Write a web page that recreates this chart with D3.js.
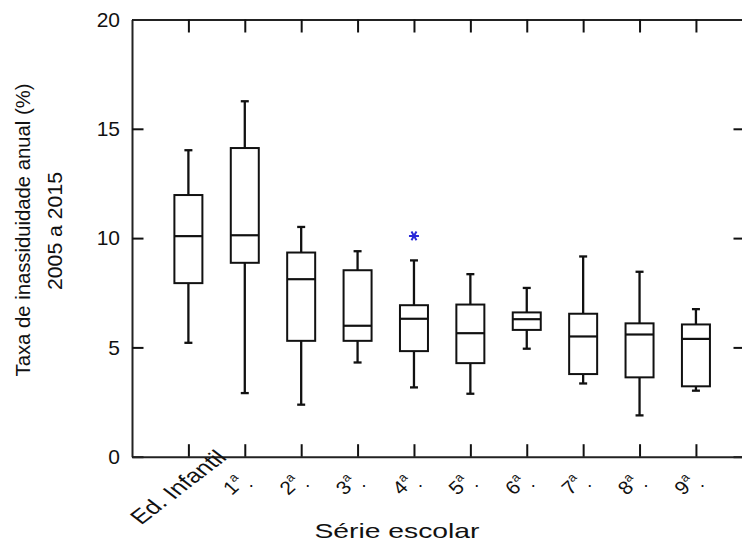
<!DOCTYPE html>
<html>
<head>
<meta charset="utf-8">
<script src="https://cdn.jsdelivr.net/npm/d3@7"></script>
<style>
  html, body { margin: 0; padding: 0; background: #fff; }
  svg { display: block; }
  text { font-family: "Liberation Sans", Arial, sans-serif; fill: #111; }
</style>
</head>
<body>
<svg id="chart" width="742" height="541"></svg>
<script>
// School grade categories (tick labels along the bottom)
const categories = ["Ed. Infantil", "1", "2", "3", "4", "5", "6", "7", "8", "9"];
// Box-plot statistics per grade: whisker low, Q1, median, Q3, whisker high (%)
const whiskerLow  = [5.21, 2.91, 2.38, 4.31, 3.17, 2.88, 4.94, 3.35, 1.89, 3.02];
const q1          = [7.94, 8.87, 5.30, 5.30, 4.83, 4.28, 5.80, 3.78, 3.63, 3.22];
const median      = [10.09, 10.13, 8.12, 5.99, 6.31, 5.65, 6.29, 5.50, 5.59, 5.39];
const q3          = [11.97, 14.12, 9.34, 8.53, 6.93, 6.96, 6.60, 6.54, 6.10, 6.05];
const whiskerHigh = [14.02, 16.26, 10.51, 9.40, 8.98, 8.35, 7.72, 9.16, 8.46, 6.75];
// Outliers: [category index, value]
const outliers = [[4, 10.10]];
// Y axis tick values
const yTicks = [0, 5, 10, 15, 20];

const svg = d3.select("#chart");

const x = d3.scaleLinear().domain([0, 10.87]).range([132, 745]);
const y = d3.scaleLinear().domain([0, 20]).range([456.7, 19.5]);

const boxW = 28, capW = 8;
const ink = "#111";

// Frame axes with inward ticks
const gLeft = svg.append("g").attr("transform", `translate(${x(0)},0)`)
  .call(d3.axisLeft(y).tickValues(yTicks).tickSizeInner(-11.5).tickSizeOuter(0).tickPadding(12));
const gRight = svg.append("g").attr("transform", `translate(${x(10.87)},0)`)
  .call(d3.axisRight(y).tickValues(yTicks).tickSizeInner(-11.5).tickSizeOuter(0).tickFormat(""));
const gTop = svg.append("g").attr("transform", `translate(0,${y(20)})`)
  .call(d3.axisTop(x).tickValues(d3.range(1, 11)).tickSizeInner(-13).tickSizeOuter(0).tickFormat(""));
const gBottom = svg.append("g").attr("transform", `translate(0,${y(0)})`)
  .call(d3.axisBottom(x).tickValues(d3.range(1, 11)).tickSizeInner(-12.5).tickSizeOuter(0).tickFormat(""));

[gLeft, gRight, gTop, gBottom].forEach(g => {
  g.selectAll(".domain").attr("stroke", "#222").attr("stroke-width", 2);
  g.selectAll(".tick line").attr("stroke", "#111").attr("stroke-width", 2);
});
gLeft.selectAll(".tick text")
  .attr("font-size", 21).attr("fill", ink)
  .style("font-family", "'Liberation Sans', Arial, sans-serif");

// Category labels, slanted
const labels = svg.append("g");
categories.forEach((c, i) => {
  const tx = x(i + 1);
  if (i === 0) {
    labels.append("text")
      .attr("text-anchor", "middle")
      .attr("font-size", 20)
      .attr("transform", `translate(${tx - 4},492) scale(1.3,1) rotate(-45)`)
      .text(c);
  } else {
    const t = labels.append("text")
      .attr("font-size", 19)
      .attr("transform", `translate(${tx - 13},496) scale(1.1,1) rotate(-45)`);
    t.append("tspan").text(c);
    t.append("tspan").attr("font-size", 12).attr("dy", -8).text("a");
    labels.append("text")
      .attr("x", tx + 4).attr("y", 487)
      .attr("font-size", 18)
      .text(".");
  }
});

// Box plots
const boxes = svg.append("g").attr("fill", "none").attr("stroke", ink);
categories.forEach((c, i) => {
  const cx = x(i + 1);
  const g = boxes.append("g");
  // whiskers
  g.append("line").attr("x1", cx).attr("x2", cx)
    .attr("y1", y(q3[i])).attr("y2", y(whiskerHigh[i])).attr("stroke-width", 2.3);
  g.append("line").attr("x1", cx).attr("x2", cx)
    .attr("y1", y(q1[i])).attr("y2", y(whiskerLow[i])).attr("stroke-width", 2.3);
  // caps
  [whiskerHigh[i], whiskerLow[i]].forEach(v => {
    g.append("line").attr("x1", cx - capW / 2).attr("x2", cx + capW / 2)
      .attr("y1", y(v)).attr("y2", y(v)).attr("stroke-width", 2.3);
  });
  // box
  g.append("rect")
    .attr("x", cx - boxW / 2).attr("width", boxW)
    .attr("y", y(q3[i])).attr("height", y(q1[i]) - y(q3[i]))
    .attr("fill", "#fff").attr("stroke-width", 2);
  // median
  g.append("line").attr("x1", cx - boxW / 2).attr("x2", cx + boxW / 2)
    .attr("y1", y(median[i])).attr("y2", y(median[i])).attr("stroke-width", 2.2);
});

// Outlier markers (asterisks)
const star = d3.symbol().type(d3.symbolAsterisk || d3.symbolCross).size(70);
svg.append("g").selectAll("path").data(outliers).join("path")
  .attr("transform", d => `translate(${x(d[0] + 1)},${y(d[1])}) rotate(90)`)
  .attr("d", star())
  .attr("fill", "none")
  .attr("stroke", "#2a2ad8")
  .attr("stroke-width", 2);

// Axis titles
svg.append("text")
  .attr("x", 397).attr("y", 538)
  .attr("text-anchor", "middle")
  .attr("font-size", 21)
  .attr("textLength", 165).attr("lengthAdjust", "spacingAndGlyphs")
  .text("Série escolar");

svg.append("text")
  .attr("transform", "translate(30,230) rotate(-90)")
  .attr("text-anchor", "middle")
  .attr("font-size", 20)
  .attr("textLength", 293).attr("lengthAdjust", "spacingAndGlyphs")
  .text("Taxa de inassiduidade anual (%)");
svg.append("text")
  .attr("transform", "translate(62,231) rotate(-90)")
  .attr("text-anchor", "middle")
  .attr("font-size", 21)
  .attr("textLength", 118).attr("lengthAdjust", "spacingAndGlyphs")
  .text("2005 a 2015");
</script>
</body>
</html>
